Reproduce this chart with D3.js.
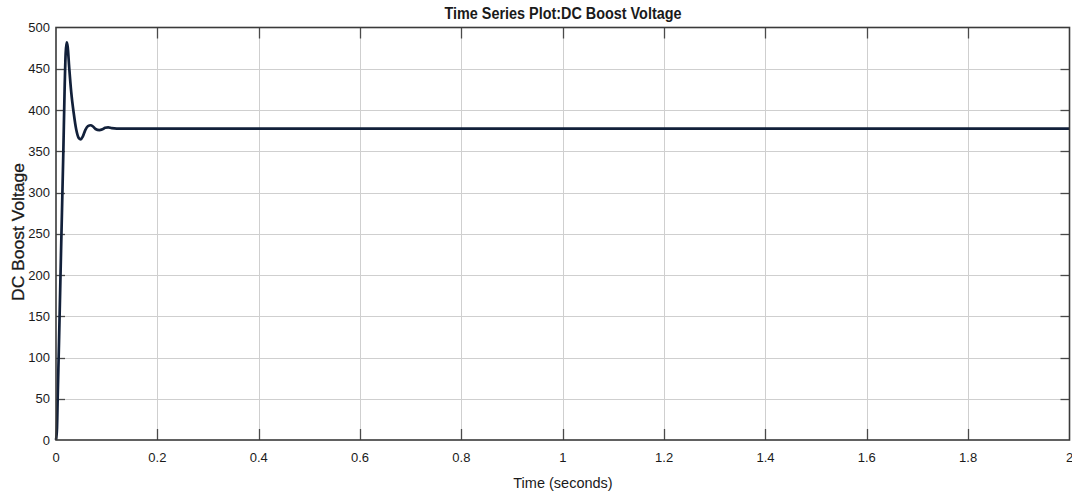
<!DOCTYPE html>
<html>
<head>
<meta charset="utf-8">
<script src="https://cdn.jsdelivr.net/npm/d3@7"></script>
<style>
  html, body { margin: 0; padding: 0; background: #ffffff; }
  svg { display: block; }
  text { font-family: "Liberation Sans", Arial, Helvetica, sans-serif; fill: #1a1a1a; }
</style>
</head>
<body>
<svg id="chart" width="1072" height="492"></svg>
<script>
// Boost converter output voltage (V) against simulation time (s)
const timeSec = [0, 0.002, 0.0033, 0.006, 0.010, 0.0145, 0.017, 0.019, 0.021, 0.023, 0.026,
                 0.030, 0.035, 0.040, 0.045, 0.049, 0.053, 0.058, 0.063, 0.0685, 0.073,
                 0.078, 0.0855, 0.092, 0.097, 0.103, 0.110, 0.120, 0.5, 1.0, 1.5, 2.0];
const boostVoltage = [0, 15, 50, 120, 230, 350, 425, 468, 482, 477, 452,
                      422, 396, 376, 366, 364.5, 368, 376, 380.5, 381.5, 380,
                      377, 375.6, 376.8, 378.5, 379, 378, 377.5, 377.5, 377.5, 377.5, 377.5];
const xTicks = [0, 0.2, 0.4, 0.6, 0.8, 1, 1.2, 1.4, 1.6, 1.8, 2];
const yTicks = [0, 50, 100, 150, 200, 250, 300, 350, 400, 450, 500];

const titleText = "Time Series Plot:DC Boost Voltage";
const xLabel = "Time (seconds)";
const yLabel = "DC Boost Voltage";

const svg = d3.select("#chart");
const plot = { left: 56, right: 1069.5, top: 27.5, bottom: 440 };

const x = d3.scaleLinear().domain([0, 2]).range([plot.left, plot.right]);
const y = d3.scaleLinear().domain([0, 500]).range([plot.bottom, plot.top]);

// grid
const grid = svg.append("g").attr("stroke", "#cfcfcf").attr("stroke-width", 1);
grid.selectAll("line.v").data(xTicks.slice(1, -1)).join("line")
  .attr("x1", d => Math.round(x(d)) + 0.5).attr("x2", d => Math.round(x(d)) + 0.5)
  .attr("y1", plot.top).attr("y2", plot.bottom);
grid.selectAll("line.h").data(yTicks.slice(1, -1)).join("line")
  .attr("y1", d => Math.round(y(d)) + 0.5).attr("y2", d => Math.round(y(d)) + 0.5)
  .attr("x1", plot.left).attr("x2", plot.right);

// inward tick marks on all four sides
const tickLen = 11;
const ticks = svg.append("g").attr("stroke", "#4a4a4a").attr("stroke-width", 1.3);
xTicks.slice(1, -1).forEach(d => {
  const px = Math.round(x(d)) + 0.5;
  ticks.append("line").attr("x1", px).attr("x2", px).attr("y1", plot.bottom).attr("y2", plot.bottom - tickLen);
  ticks.append("line").attr("x1", px).attr("x2", px).attr("y1", plot.top).attr("y2", plot.top + tickLen);
});
yTicks.slice(1, -1).forEach(d => {
  const py = Math.round(y(d)) + 0.5;
  ticks.append("line").attr("y1", py).attr("y2", py).attr("x1", plot.left).attr("x2", plot.left + 9);
  ticks.append("line").attr("y1", py).attr("y2", py).attr("x1", plot.right).attr("x2", plot.right - 9);
});

// data line
const line = d3.line()
  .x((d, i) => x(timeSec[i]))
  .y(d => y(d))
  .curve(d3.curveMonotoneX);
svg.append("path")
  .datum(boostVoltage)
  .attr("fill", "none")
  .attr("stroke", "#12203a")
  .attr("stroke-width", 2.7)
  .attr("stroke-linejoin", "round")
  .attr("d", line);

// axes frame
svg.append("rect")
  .attr("x", plot.left).attr("y", plot.top)
  .attr("width", plot.right - plot.left).attr("height", plot.bottom - plot.top)
  .attr("fill", "none").attr("stroke", "#3a3a3a").attr("stroke-width", 1.6);

// tick labels
svg.append("g").selectAll("text").data(xTicks).join("text")
  .attr("x", d => x(d)).attr("y", 462)
  .attr("text-anchor", "middle")
  .attr("font-size", 13)
  .text(d => d3.format("~g")(d));
svg.append("g").selectAll("text").data(yTicks).join("text")
  .attr("x", 50).attr("y", d => y(d) + 4.5)
  .attr("text-anchor", "end")
  .attr("font-size", 13)
  .text(d => d);

// titles
svg.append("text")
  .attr("x", 563).attr("y", 18.5)
  .attr("text-anchor", "middle")
  .attr("font-size", 16).attr("font-weight", "bold")
  .attr("textLength", 237).attr("lengthAdjust", "spacingAndGlyphs")
  .text(titleText);
svg.append("text")
  .attr("x", 563).attr("y", 488)
  .attr("text-anchor", "middle")
  .attr("font-size", 14.5)
  .text(xLabel);
svg.append("text")
  .attr("transform", "translate(24,232) rotate(-90)")
  .attr("text-anchor", "middle")
  .attr("font-size", 16)
  .attr("stroke", "#1a1a1a").attr("stroke-width", 0.3)
  .attr("textLength", 138).attr("lengthAdjust", "spacingAndGlyphs")
  .text(yLabel);
</script>
</body>
</html>
